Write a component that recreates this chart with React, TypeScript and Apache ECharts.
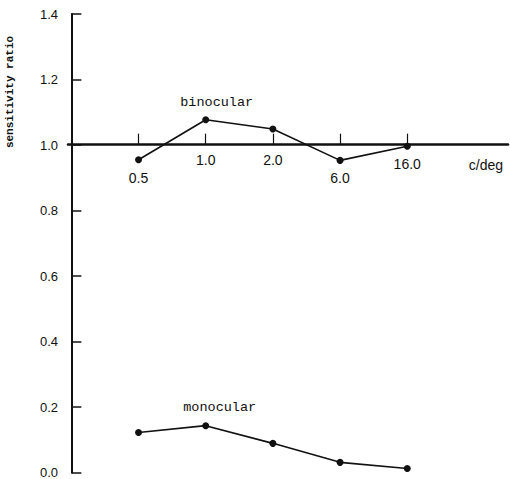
import React, { useEffect, useRef } from "react";
import * as echarts from "echarts";

const categories = ["0.5", "1.0", "2.0", "6.0", "16.0"];
const binocular = [0.955, 1.077, 1.049, 0.953, 0.996];
const monocular = [0.122, 0.143, 0.089, 0.031, 0.012];
const yTicks = [0, 0.2, 0.4, 0.6, 0.8, 1.0, 1.2, 1.4];

const INK = "#111";
const MONO = "'Liberation Mono', 'DejaVu Sans Mono', monospace";
const SANS = "'Liberation Sans', Arial, sans-serif";

export default function App() {
  const ref = useRef<HTMLDivElement>(null);
  useEffect(() => {
    if (!ref.current) return;
    const chart = echarts.init(ref.current, null, { renderer: "svg" });
    const positions = categories.map((_, i) => i + 1);
    const gridTop = 14;
    const gridBottom = 6;
    const gridHeight = 479 - gridTop - gridBottom;
    const yMax = 1.4;
    const lineOffset = -(gridHeight * (1.0 / yMax));

    const labelFor = (v: number) => {
      const i = positions.indexOf(Math.round(v));
      if (i < 0) return "";
      const b = binocular[i];
      const style = b < 0.97 ? "lo" : b < 1.0 ? "mid" : "hi";
      return `{${style}|${categories[i]}}`;
    };

    const pointLabel = (text: string, dx: number, dist: number) => ({
      show: true,
      position: "top",
      distance: dist,
      offset: [dx, 0],
      formatter: text,
      fontFamily: MONO,
      fontSize: 13.5,
      color: INK,
    });

    const option: any = {
      animation: false,
      backgroundColor: "#fff",
      grid: { left: 68, right: 2, top: gridTop, bottom: gridBottom, containLabel: false },
      xAxis: {
        type: "value",
        min: -0.05,
        max: 6.5,
        position: "bottom",
        offset: lineOffset,
        axisLine: { onZero: false, lineStyle: { color: INK, width: 2.5 } },
        axisTick: { show: true, inside: true, length: 11, customValues: positions, lineStyle: { color: INK, width: 1.2 } },
        splitLine: { show: false },
        axisLabel: {
          customValues: positions,
          margin: 8,
          formatter: labelFor,
          rich: {
            hi: { fontFamily: SANS, fontSize: 14, color: INK },
            mid: { fontFamily: SANS, fontSize: 14, color: INK, padding: [4, 0, 0, 0] },
            lo: { fontFamily: SANS, fontSize: 14, color: INK, padding: [18, 0, 0, 0] },
          },
        },
        name: "c/deg",
        nameLocation: "end",
        nameGap: -5,
        nameTextStyle: {
          fontFamily: SANS,
          fontSize: 14,
          color: INK,
          align: "right",
          verticalAlign: "top",
          padding: [13, 0, 0, 0],
        },
      },
      yAxis: {
        type: "value",
        min: 0,
        max: yMax,
        interval: 0.2,
        axisLine: { show: true, lineStyle: { color: INK, width: 2 } },
        axisTick: { show: true, inside: true, length: 10, lineStyle: { color: INK, width: 1.5 } },
        splitLine: { show: false },
        axisLabel: {
          margin: 10,
          fontFamily: SANS,
          fontSize: 13,
          color: INK,
          formatter: (v: number) => (yTicks.some((t) => Math.abs(t - v) < 1e-6) ? v.toFixed(1) : ""),
        },
      },
      graphic: [
        {
          type: "text",
          x: 10,
          y: 92,
          rotation: Math.PI / 2,
          style: {
            text: "sensitivity ratio",
            font: `bold 11px ${MONO}`,
            fill: INK,
            textAlign: "center",
            textVerticalAlign: "middle",
          },
        },
      ],
      series: [
        {
          name: "binocular",
          type: "line",
          data: binocular.map((v, i) =>
            i === 1
              ? { value: [positions[i], v], label: pointLabel("binocular", 11, 7) }
              : [positions[i], v]
          ),
          symbol: "circle",
          symbolSize: 7,
          itemStyle: { color: INK },
          lineStyle: { color: INK, width: 1.6 },
          z: 3,
        },
        {
          name: "monocular",
          type: "line",
          data: monocular.map((v, i) =>
            i === 1
              ? { value: [positions[i], v], label: pointLabel("monocular", 14, 8) }
              : [positions[i], v]
          ),
          symbol: "circle",
          symbolSize: 7,
          itemStyle: { color: INK },
          lineStyle: { color: INK, width: 1.6 },
        },
      ],
    };
    chart.setOption(option);
    return () => chart.dispose();
  }, []);
  return <div ref={ref} style={{ width: 510, height: 479, position: "absolute", left: 0, top: 0 }} />;
}
